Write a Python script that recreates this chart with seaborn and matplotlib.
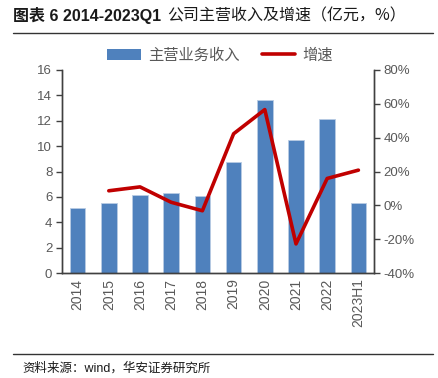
import matplotlib
matplotlib.use("Agg")
import matplotlib.pyplot as plt
import seaborn as sns
import pandas as pd
import numpy as np
from matplotlib.patches import Patch
from matplotlib.lines import Line2D

categories = ["2014", "2015", "2016", "2017", "2018", "2019", "2020", "2021", "2022", "2023H1"]
revenue = [5.10, 5.55, 6.18, 6.32, 6.10, 8.71, 13.66, 10.50, 12.13, 5.50]
growth = [np.nan, 8.6, 10.9, 1.8, -3.2, 42.3, 56.6, -22.8, 15.9, 20.8]
left_ticks = [0, 2, 4, 6, 8, 10, 12, 14, 16]
right_ticks = [-40, -20, 0, 20, 40, 60, 80]

title_a = "图表 6 2014-2023Q1"
title_b = "公司主营收入及增速（亿元，%）"
source = "资料来源：wind，华安证券研究所"
bar_label = "主营业务收入"
line_label = "增速"

sns.set_theme(style="white")
plt.rcParams['font.family'] = ['Liberation Sans', 'Noto Sans CJK SC', 'DejaVu Sans']

BLUE = "#4F81BD"
RED = "#C00000"
GREY = "#595959"
AX = "#404040"

df = pd.DataFrame({"cat": categories, "rev": revenue, "g": growth, "pos": np.arange(len(categories))})

fig = plt.figure(figsize=(4.38, 3.78), dpi=100)
ax = fig.add_axes([62/438, 1-273/378, (374-62)/438, (273-70)/378])

sns.barplot(data=df, x="cat", y="rev", color=BLUE, saturation=1, width=0.5,
            edgecolor="#B8CCE4", linewidth=0.6, ax=ax)
ax.set_ylim(0, 16)
ax.set_xlim(-0.5, len(categories) - 0.5)
ax.set_yticks(left_ticks)
ax.set_yticklabels([str(t) for t in left_ticks], color=GREY, fontsize=9.5)
ax.set_xticks(np.arange(len(categories)))
ax.set_xticklabels(categories, rotation=90, color=GREY, fontsize=10)
ax.tick_params(axis="x", which="major", length=0, pad=4)
ax.set_xticks(np.arange(len(categories) + 1) - 0.5, minor=True)
ax.tick_params(axis="x", which="minor", length=4, width=1, color=AX, direction="out")
ax.tick_params(axis="y", length=4, width=1, color=AX, direction="out", pad=3, left=True)
ax.set_xlabel("")
ax.set_ylabel("")

ax2 = ax.twinx()
sns.lineplot(data=df, x="pos", y="g", color=RED, linewidth=2.6, ax=ax2)
ax2.set_ylim(-40, 80)
ax2.set_yticks(right_ticks)
ax2.set_yticklabels([f"{t}%" for t in right_ticks], color=GREY, fontsize=9.5)
ax2.tick_params(axis="y", length=4, width=1, color=AX, direction="out", pad=3, right=True)
ax2.set_xlim(-0.5, len(categories) - 0.5)
ax2.set_ylabel("")
ax2.set_xlabel("")

for a in (ax, ax2):
    a.spines["top"].set_visible(False)
    for s in ("left", "right", "bottom"):
        a.spines[s].set_color(AX)
        a.spines[s].set_linewidth(1)
    a.grid(False)

handles = [Patch(facecolor=BLUE, edgecolor="none"), Line2D([0], [0], color=RED, linewidth=2.6)]
fig.legend(handles, [bar_label, line_label], loc="center", bbox_to_anchor=(0.503, 1-55/378),
           ncol=2, frameon=False, handlelength=2.2, handletextpad=0.5, columnspacing=1.4,
           prop={"family": ["Noto Sans CJK SC"], "size": 11}, labelcolor=GREY)

ta = fig.text(13/438, 1-16/378, title_a, fontsize=11.5, fontweight="bold", color="#1a1a1a",
              ha="left", va="center", family=["Liberation Sans", "Noto Sans CJK SC"])
fig.canvas.draw()
bb = ta.get_window_extent(fig.canvas.get_renderer())
fig.text((bb.x1 + 6) / 438, 1-16/378, title_b, fontsize=11.5, color="#1a1a1a",
         ha="left", va="center", family=["Noto Sans CJK SC"])
fig.add_artist(Line2D([13/438, 433/438], [1-33/378, 1-33/378], color="#333333", linewidth=1,
                      transform=fig.transFigure))
fig.add_artist(Line2D([13/438, 433/438], [1-354/378, 1-354/378], color="#333333", linewidth=1,
                      transform=fig.transFigure))
fig.text(22/438, 1-368/378, source, fontsize=9, color="#1a1a1a", ha="left", va="center",
         family=["Liberation Sans", "Noto Sans CJK SC"])

fig.savefig("out.png", dpi=100)
